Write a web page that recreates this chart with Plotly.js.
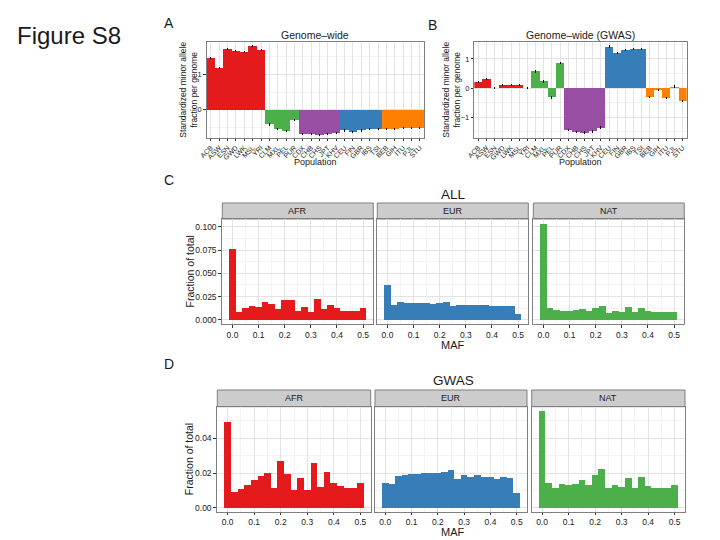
<!DOCTYPE html>
<html><head><meta charset="utf-8">
<script src="https://cdn.plot.ly/plotly-3.0.1.min.js"></script>
<style>html,body{margin:0;padding:0;background:#fff}#chart{width:720px;height:540px}</style>
</head><body><div id="chart"></div>
<script>
// ---------- DATA ----------
const populations = ['ACB','ASW','ESN','GWD','LWK','MSL','YRI','CLM','MXL','PEL','PUR','CDX','CHB','CHS','JPT','KHV','CEU','FIN','GBR','IBS','TSI','BEB','GIH','ITU','PJL','STU'];
const popGroups   = ['AFR','AFR','AFR','AFR','AFR','AFR','AFR','NAT','NAT','NAT','NAT','EAS','EAS','EAS','EAS','EAS','EUR','EUR','EUR','EUR','EUR','SAS','SAS','SAS','SAS','SAS'];
const groupNames  = ['AFR','NAT','EAS','EUR','SAS'];
const groupColors = ['#E41A1C','#4DAF4A','#984EA3','#377EB8','#FF7F00'];

const genomeWide    = [1.46,1.17,1.71,1.67,1.63,1.81,1.70,-0.42,-0.55,-0.61,-0.29,-0.70,-0.70,-0.72,-0.70,-0.66,-0.59,-0.63,-0.59,-0.56,-0.55,-0.56,-0.56,-0.52,-0.52,-0.52];
const genomeWideErr = [0.03,0.03,0.03,0.03,0.03,0.03,0.03,0.03,0.03,0.03,0.03,0.03,0.03,0.03,0.03,0.03,0.03,0.03,0.03,0.03,0.03,0.03,0.03,0.03,0.03,0.03];
const gwasWide      = [0.20,0.32,0.00,0.11,0.11,0.11,0.00,0.57,0.23,-0.32,0.86,-1.44,-1.52,-1.53,-1.49,-1.36,1.42,1.20,1.31,1.34,1.34,-0.32,-0.06,-0.34,0.05,-0.44];
const gwasWideErr   = [0.04,0.04,0.04,0.04,0.04,0.04,0.04,0.05,0.05,0.05,0.05,0.04,0.04,0.04,0.04,0.04,0.04,0.04,0.04,0.04,0.04,0.04,0.04,0.04,0.04,0.04];

const facets  = ['AFR','EUR','NAT'];
const facetColors = ['#E41A1C','#377EB8','#4DAF4A'];
const mafBins = [0,0.025,0.05,0.075,0.1,0.125,0.15,0.175,0.2,0.225,0.25,0.275,0.3,0.325,0.35,0.375,0.4,0.425,0.45,0.475,0.5];
const allAFR  = [0.0763,0.0085,0.0125,0.0145,0.0135,0.0192,0.0170,0.0115,0.0212,0.0212,0.0094,0.0138,0.0083,0.0225,0.0112,0.0160,0.0128,0.0094,0.0094,0.0094,0.0126];
const allEUR  = [0.0374,0.0158,0.0191,0.0180,0.0180,0.0180,0.0176,0.0172,0.0183,0.0190,0.0147,0.0158,0.0158,0.0158,0.0158,0.0155,0.0150,0.0147,0.0147,0.0147,0.0058];
const allNAT  = [0.1035,0.0126,0.0104,0.0094,0.0094,0.0104,0.0115,0.0094,0.0126,0.0147,0.0072,0.0094,0.0083,0.0137,0.0083,0.0126,0.0094,0.0083,0.0083,0.0083,0.0083];
const gwasAFR = [0.0496,0.0090,0.0110,0.0133,0.0162,0.0185,0.0200,0.0112,0.0267,0.0196,0.0104,0.0174,0.0104,0.0256,0.0122,0.0208,0.0144,0.0127,0.0112,0.0112,0.0144];
const gwasEUR = [0.0144,0.0135,0.0183,0.0188,0.0192,0.0192,0.0198,0.0198,0.0200,0.0208,0.0217,0.0165,0.0188,0.0177,0.0188,0.0177,0.0177,0.0167,0.0177,0.0171,0.0087];
const gwasNAT = [0.0558,0.0144,0.0115,0.0138,0.0133,0.0138,0.0160,0.0130,0.0188,0.0223,0.0115,0.0133,0.0121,0.0171,0.0115,0.0177,0.0127,0.0115,0.0115,0.0115,0.0133];
const allTicks  = [0,0.025,0.05,0.075,0.1];
const gwasTicks = [0,0.02,0.04];
const mafTicks  = [0,0.1,0.2,0.3,0.4,0.5];

// ---------- LAYOUT HELPERS ----------
const W = 720, H = 540;
const FONT = 'Liberation Sans, Arial, Helvetica, sans-serif';
const fx = p => p / W;
const fy = p => 1 - p / H;
const GRID = '#E3E3E3', MINOR = '#F3F3F3', BORDER = '#7F7F7F', TICKC = '#333333';

function axisBase(extra) {
  return Object.assign({
    showline: true, mirror: true, linecolor: BORDER, linewidth: 1,
    ticks: 'outside', ticklen: 3, tickcolor: TICKC, tickwidth: 1,
    showgrid: true, gridcolor: GRID, gridwidth: 1, zeroline: false,
    tickfont: {family: FONT, size: 8.5, color: '#1a1a1a'}, fixedrange: true
  }, extra);
}

const traces = [];
const layout = {
  width: W, height: H, margin: {l: 0, r: 0, t: 0, b: 0},
  paper_bgcolor: '#ffffff', plot_bgcolor: '#ffffff',
  showlegend: false, barmode: 'overlay', bargap: 0,
  font: {family: FONT, color: '#1a1a1a'},
  annotations: [], shapes: []
};

function ann(text, x, y, size, opts) {
  layout.annotations.push(Object.assign({
    text: text, x: fx(x), y: fy(y), xref: 'paper', yref: 'paper',
    showarrow: false, xanchor: 'center', yanchor: 'middle',
    font: {family: FONT, size: size, color: '#1a1a1a'}
  }, opts || {}));
}

// ---------- PANELS A & B ----------
function popPanel(axN, values, errs, x0, x1, y0, y1, yr, yticks, title, ytx) {
  const xa = 'x' + axN, ya = 'y' + axN;
  groupNames.forEach((g, gi) => {
    const xs = [], ys = [], es = [];
    populations.forEach((p, i) => { if (popGroups[i] === g) { xs.push(p); ys.push(values[i]); es.push(errs[i]); } });
    traces.push({type: 'bar', x: xs, y: ys, width: 1, xaxis: xa, yaxis: ya,
      marker: {color: groupColors[gi], line: {width: 0}},
      error_y: {type: 'data', array: es, visible: true, color: '#000', thickness: 1, width: 0},
      hoverinfo: 'x+y'});
  });
  layout['xaxis' + axN] = axisBase({
    domain: [fx(x0), fx(x1)], anchor: ya, type: 'category',
    categoryorder: 'array', categoryarray: populations,
    range: [-0.5, populations.length - 0.5], tickangle: -45,
    tickfont: {family: FONT, size: 7, color: '#1a1a1a'}, ticklen: 2.5
  });
  layout['yaxis' + axN] = axisBase({
    domain: [fy(y1), fy(y0)], anchor: xa, range: yr,
    tickvals: yticks, ticktext: yticks.map(v => v === -1 ? '\u22121' : String(v)),
    tickfont: {family: FONT, size: 7.5, color: '#1a1a1a'}, ticklen: 2.5,
    minor: {dtick: 0.5, tick0: 0, showgrid: true, gridcolor: MINOR, ticks: ''}
  });
  ann(title, (x0 + x1) / 2, 35, 10.5);
  ann('Population', (x0 + x1) / 2, 162, 9);
  ann('Standardized minor allele<br>fraction per genome', ytx, (y0 + y1) / 2, 8.5, {textangle: -90});
}
popPanel(1, genomeWide, genomeWideErr, 206.7, 424, 42, 137.5, [-0.79, 1.92], [0, 1], 'Genome\u2013wide', 189);
popPanel(2, gwasWide, gwasWideErr, 474.3, 686.7, 42, 137.5, [-1.70, 1.58], [-1, 0, 1], 'Genome\u2013wide (GWAS)', 452);

// ---------- PANELS C & D ----------
function histRow(startAx, series, facetX, y0, y1, yr, yticks, yfmt, title, titleY, mafY, stripY0) {
  series.forEach((vals, fi) => {
    const n = startAx + fi;
    const xa = 'x' + n, ya = 'y' + n;
    traces.push({type: 'bar', x: mafBins, y: vals, width: 0.025, xaxis: xa, yaxis: ya,
      marker: {color: facetColors[fi], line: {width: 0}}, hoverinfo: 'x+y'});
    const [x0, x1] = facetX[fi];
    layout['xaxis' + n] = axisBase({
      domain: [fx(x0), fx(x1)], anchor: ya, range: [-0.039, 0.539], ticklen: 2.5,
      tickvals: mafTicks, ticktext: mafTicks.map(v => v.toFixed(1)),
      minor: {dtick: 0.05, tick0: 0, showgrid: true, gridcolor: MINOR, ticks: ''}
    });
    layout['yaxis' + n] = axisBase({
      domain: [fy(y1), fy(y0)], anchor: xa, range: yr,
      tickvals: yticks, ticktext: yticks.map(v => v.toFixed(yfmt)),
      showticklabels: fi === 0,
      ticks: fi === 0 ? 'outside' : '',
      minor: {dtick: (yticks[1] - yticks[0]) / 2, tick0: 0, showgrid: true, gridcolor: MINOR, ticks: ''}
    });
    layout.shapes.push({type: 'rect', xref: 'paper', yref: 'paper',
      x0: fx(x0), x1: fx(x1), y0: fy(y0), y1: fy(stripY0),
      fillcolor: '#CCCCCC', line: {color: BORDER, width: 1}, layer: 'below'});
    ann(facets[fi], (x0 + x1) / 2, (stripY0 + y0) / 2, 9);
  });
  ann(title, 453, titleY, 13.5);
  ann('MAF', 453, mafY, 11);
  ann('Fraction of total', 189, (y0 + y1) / 2, 10.5, {textangle: -90});
}
histRow(3, [allAFR, allEUR, allNAT], [[222.3, 373.3], [377.3, 528.3], [533.3, 684.3]],
  219, 324, [-0.0046, 0.1086], allTicks, 3, 'ALL', 194, 345, 203);
histRow(6, [gwasAFR, gwasEUR, gwasNAT], [[217.3, 370.7], [375, 527], [531.7, 685]],
  406.7, 511.7, [-0.0023, 0.0582], gwasTicks, 2, 'GWAS', 380, 532, 390);

// ---------- FIGURE LABELS ----------
ann('Figure S8', 15, 36, 24, {xanchor: 'left'});
ann('A', 169, 23, 14);
ann('B', 432, 25, 14);
ann('C', 169, 180, 14);
ann('D', 169, 364, 14);

Plotly.newPlot('chart', traces, layout, {staticPlot: true, displayModeBar: false});
</script>
</body></html>
